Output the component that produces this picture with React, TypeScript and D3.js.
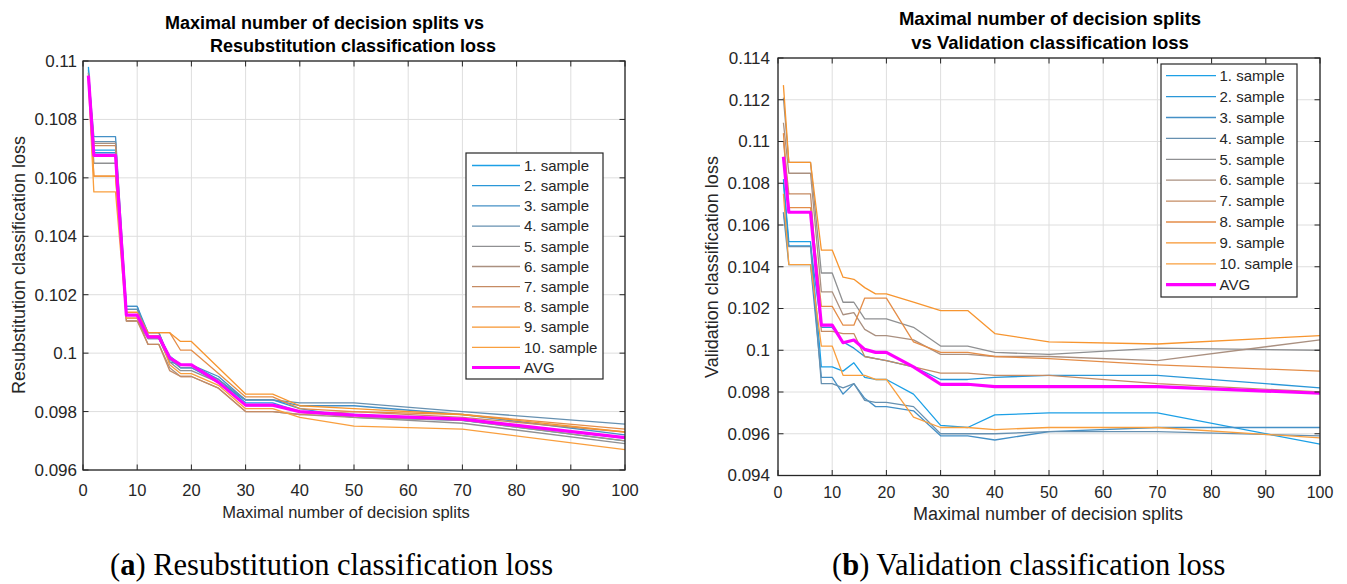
import React from 'react';
import * as d3 from 'd3';

// ---------- data ----------
const splits = [1, 2, 6, 8, 10, 12, 14, 16, 18, 20, 25, 30, 35, 40, 50, 70, 100];
const xTicks = [0, 10, 20, 30, 40, 50, 60, 70, 80, 90, 100];
const resubTicks = [0.096, 0.098, 0.1, 0.102, 0.104, 0.106, 0.108, 0.11];
const validTicks = [0.094, 0.096, 0.098, 0.1, 0.102, 0.104, 0.106, 0.108, 0.11, 0.112, 0.114];
const sampleNames = ['1. sample', '2. sample', '3. sample', '4. sample', '5. sample', '6. sample', '7. sample', '8. sample', '9. sample', '10. sample'];
const avgName = 'AVG';
const sampleColors = ['#1ca0e6', '#2a97d8', '#4490c6', '#6690b0', '#8f9092', '#aa9080', '#c58b63', '#e48d48', '#f7952f', '#f99f3e'];
const avgColor = '#ff00ff';

// Resubstitution classification loss
const resub1 = [0.1098, 0.10695, 0.10695, 0.1015, 0.1015, 0.1006, 0.1006, 0.0999, 0.0996, 0.0996, 0.0991, 0.0983, 0.0983, 0.098, 0.0979, 0.0977, 0.097];
const resub2 = [0.1097, 0.10686, 0.10686, 0.1016, 0.1016, 0.1007, 0.1007, 0.0998, 0.0995, 0.0995, 0.099, 0.0984, 0.0984, 0.0981, 0.0978, 0.0977, 0.0971];
const resub3 = [0.1096, 0.10741, 0.10741, 0.1016, 0.1016, 0.1005, 0.1005, 0.0997, 0.0996, 0.0996, 0.0992, 0.0984, 0.0984, 0.0982, 0.0982, 0.0979, 0.0972];
const resub4 = [0.1095, 0.10724, 0.10724, 0.1015, 0.1015, 0.1007, 0.1007, 0.0998, 0.0995, 0.0995, 0.0991, 0.0984, 0.0984, 0.0983, 0.0983, 0.098, 0.09757];
const resub5 = [0.1096, 0.1065, 0.1065, 0.1011, 0.1011, 0.1005, 0.1005, 0.0997, 0.0994, 0.0994, 0.099, 0.0982, 0.0982, 0.098, 0.0978, 0.0976, 0.0969];
const resub6 = [0.1095, 0.10718, 0.10718, 0.1012, 0.1012, 0.1003, 0.1003, 0.0995, 0.0992, 0.0992, 0.0988, 0.098, 0.098, 0.0979, 0.0978, 0.0977, 0.097];
const resub7 = [0.1094, 0.1071, 0.1071, 0.1011, 0.1011, 0.1003, 0.1003, 0.0994, 0.0992, 0.0992, 0.0988, 0.098, 0.098, 0.0979, 0.098, 0.0978, 0.0973];
const resub8 = [0.1094, 0.10606, 0.10606, 0.1013, 0.1013, 0.1007, 0.1007, 0.1007, 0.1001, 0.1001, 0.0993, 0.0985, 0.0985, 0.0981, 0.098, 0.0979, 0.0974];
const resub9 = [0.1095, 0.10606, 0.10606, 0.1014, 0.1014, 0.1007, 0.1007, 0.1007, 0.1004, 0.1004, 0.0995, 0.0986, 0.0986, 0.0982, 0.0981, 0.0979, 0.0973];
const resub10 = [0.1093, 0.10552, 0.10552, 0.1012, 0.1012, 0.1006, 0.1006, 0.0996, 0.0993, 0.0993, 0.0989, 0.0981, 0.0981, 0.0978, 0.0975, 0.0974, 0.0967];
const resubAvg = [0.1095, 0.10677, 0.10677, 0.1013, 0.1013, 0.10056, 0.10056, 0.09984, 0.09961, 0.0996, 0.099, 0.09822, 0.09822, 0.098, 0.09788, 0.09774, 0.09711];

// Validation classification loss
const valid1 = [0.1082, 0.1052, 0.1052, 0.0992, 0.0992, 0.099, 0.0994, 0.0987, 0.0986, 0.0986, 0.0979, 0.0964, 0.0963, 0.0969, 0.097, 0.097, 0.0955];
const valid2 = [0.108, 0.105, 0.105, 0.1011, 0.1011, 0.1004, 0.1001, 0.0997, 0.0996, 0.0995, 0.0992, 0.0986, 0.0986, 0.0987, 0.0988, 0.0988, 0.0982];
const valid3 = [0.1066, 0.1041, 0.1041, 0.0987, 0.0987, 0.0979, 0.0984, 0.0977, 0.0973, 0.0973, 0.0971, 0.0959, 0.0959, 0.0957, 0.0961, 0.0963, 0.0963];
const valid4 = [0.1066, 0.10496, 0.10496, 0.0984, 0.0984, 0.0982, 0.0984, 0.0976, 0.0975, 0.0975, 0.0973, 0.096, 0.096, 0.096, 0.0961, 0.0961, 0.0959];
const valid5 = [0.1121, 0.109, 0.109, 0.1037, 0.1037, 0.1023, 0.1023, 0.1015, 0.1015, 0.1015, 0.1011, 0.1002, 0.1002, 0.0999, 0.0998, 0.1001, 0.1];
const valid6 = [0.1109, 0.10848, 0.10848, 0.1028, 0.1028, 0.1017, 0.1018, 0.101, 0.1007, 0.1007, 0.1005, 0.0998, 0.0998, 0.0997, 0.0997, 0.0995, 0.1005];
const valid7 = [0.11, 0.10749, 0.10749, 0.1009, 0.1009, 0.1008, 0.1008, 0.0997, 0.0996, 0.0995, 0.0992, 0.0989, 0.0989, 0.0988, 0.0988, 0.0984, 0.098];
const valid8 = [0.1104, 0.10683, 0.10683, 0.1021, 0.1021, 0.1012, 0.1012, 0.1025, 0.1025, 0.1025, 0.1004, 0.0999, 0.0999, 0.0997, 0.0996, 0.0993, 0.099];
const valid9 = [0.1127, 0.109, 0.109, 0.1048, 0.1048, 0.1035, 0.1034, 0.103, 0.1027, 0.1027, 0.1023, 0.1019, 0.1019, 0.1008, 0.1004, 0.1003, 0.1007];
const valid10 = [0.1075, 0.1041, 0.1041, 0.1002, 0.1002, 0.0988, 0.0988, 0.0988, 0.0986, 0.0986, 0.0968, 0.0963, 0.0963, 0.0962, 0.0963, 0.0963, 0.0958];
const validAvg = [0.10927, 0.10661, 0.10661, 0.1012, 0.1012, 0.10036, 0.10049, 0.10004, 0.0999, 0.0999, 0.0992, 0.09837, 0.09837, 0.09826, 0.09826, 0.09826, 0.09794];

const resubSeries = [resub1, resub2, resub3, resub4, resub5, resub6, resub7, resub8, resub9, resub10];
const validSeries = [valid1, valid2, valid3, valid4, valid5, valid6, valid7, valid8, valid9, valid10];

const SANS = '"Liberation Sans", Arial, Helvetica, sans-serif';
const SERIF = '"Liberation Serif", "Times New Roman", serif';
const AXIS = '#262626';

type Cfg = {
  left: number; right: number; top: number; bottom: number;
  yDomain: [number, number]; yTicks: number[];
  tickFont: number; xTickFont: number; labelFont: number; ylabelFont: number; titleFont: number;
  titles: { text: string; x: number; y: number; anchor: string }[];
  ylabel: { text: string; x: number; y: number };
  xlabel: { text: string; x: number; y: number };
  yTickX: number; xTickY: number;
  legend: { x0: number; x1: number; y0: number; y1: number; row0: number; step: number; lx0: number; lx1: number; tx: number; font: number };
};

const fmt = (v: number) => String(+v.toFixed(3));

function Chart({ cfg, series, avg }: { cfg: Cfg; series: number[][]; avg: number[] }) {
  const x = d3.scaleLinear().domain([0, 100]).range([cfg.left, cfg.right]);
  const y = d3.scaleLinear().domain(cfg.yDomain).range([cfg.bottom, cfg.top]);
  const line = (vals: number[]) =>
    d3.line<number>().x((_, i) => x(splits[i])).y((v) => y(v))(vals) || '';
  const tl = 5.5;
  const L = cfg.legend;
  return (
    <g>
      <rect x={cfg.left} y={cfg.top} width={cfg.right - cfg.left} height={cfg.bottom - cfg.top} fill="#fff" />
      {xTicks.map((t) => (
        <line key={'gx' + t} x1={x(t)} x2={x(t)} y1={cfg.top} y2={cfg.bottom} stroke="#dedede" strokeWidth={1} />
      ))}
      {cfg.yTicks.map((t) => (
        <line key={'gy' + t} x1={cfg.left} x2={cfg.right} y1={y(t)} y2={y(t)} stroke="#dedede" strokeWidth={1} />
      ))}
      {series.map((s, i) => (
        <path key={'s' + i} d={line(s)} fill="none" stroke={sampleColors[i]} strokeWidth={1.3} strokeLinejoin="round" />
      ))}
      <path d={line(avg)} fill="none" stroke={avgColor} strokeWidth={3.2} strokeLinejoin="round" />
      <rect x={cfg.left} y={cfg.top} width={cfg.right - cfg.left} height={cfg.bottom - cfg.top} fill="none" stroke={AXIS} strokeWidth={1.3} />
      {xTicks.map((t) => (
        <g key={'tx' + t}>
          <line x1={x(t)} x2={x(t)} y1={cfg.bottom} y2={cfg.bottom - tl} stroke={AXIS} />
          <line x1={x(t)} x2={x(t)} y1={cfg.top} y2={cfg.top + tl} stroke={AXIS} />
          <text x={x(t)} y={cfg.xTickY} textAnchor="middle" fontSize={cfg.xTickFont} fill={AXIS} fontFamily={SANS}>{t}</text>
        </g>
      ))}
      {cfg.yTicks.map((t) => (
        <g key={'ty' + t}>
          <line x1={cfg.left} x2={cfg.left + tl} y1={y(t)} y2={y(t)} stroke={AXIS} />
          <line x1={cfg.right} x2={cfg.right - tl} y1={y(t)} y2={y(t)} stroke={AXIS} />
          <text x={cfg.yTickX} y={y(t)} dy="0.35em" textAnchor="end" fontSize={cfg.tickFont} fill={AXIS} fontFamily={SANS}>{fmt(t)}</text>
        </g>
      ))}
      {cfg.titles.map((t, i) => (
        <text key={'ti' + i} x={t.x} y={t.y} textAnchor={t.anchor as any} fontSize={cfg.titleFont} fontWeight="bold" fill="#000" fontFamily={SANS}>{t.text}</text>
      ))}
      <text x={cfg.xlabel.x} y={cfg.xlabel.y} textAnchor="middle" fontSize={cfg.labelFont} fill={AXIS} fontFamily={SANS}>{cfg.xlabel.text}</text>
      <text transform={`translate(${cfg.ylabel.x},${cfg.ylabel.y}) rotate(-90)`} textAnchor="middle" fontSize={cfg.ylabelFont} fill={AXIS} fontFamily={SANS}>{cfg.ylabel.text}</text>
      <rect x={L.x0} y={L.y0} width={L.x1 - L.x0} height={L.y1 - L.y0} fill="#fff" stroke={AXIS} strokeWidth={1.2} />
      {sampleNames.concat([avgName]).map((name, i) => {
        const ry = L.row0 + i * L.step;
        const isAvg = i === sampleNames.length;
        return (
          <g key={'lg' + i}>
            <line x1={L.lx0} x2={L.lx1} y1={ry} y2={ry} stroke={isAvg ? avgColor : sampleColors[i]} strokeWidth={isAvg ? 3.2 : 1.3} />
            <text x={L.tx} y={ry} dy="0.35em" fontSize={L.font} fill={AXIS} fontFamily={SANS}>{name}</text>
          </g>
        );
      })}
    </g>
  );
}

const leftCfg: Cfg = {
  left: 83, right: 625, top: 61, bottom: 470,
  yDomain: [0.096, 0.11], yTicks: resubTicks,
  tickFont: 17, xTickFont: 16.5, labelFont: 16.5, ylabelFont: 18, titleFont: 18,
  titles: [
    { text: 'Maximal number of decision splits vs', x: 165, y: 29, anchor: 'start' },
    { text: 'Resubstitution classification loss', x: 210, y: 52, anchor: 'start' },
  ],
  ylabel: { text: 'Resubstitution classification loss', x: 25, y: 265 },
  xlabel: { text: 'Maximal number of decision splits', x: 346, y: 518 },
  yTickX: 77, xTickY: 496,
  legend: { x0: 466, x1: 603, y0: 153, y1: 379, row0: 165.5, step: 20.2, lx0: 472, lx1: 520, tx: 524, font: 15 },
};

const rightCfg: Cfg = {
  left: 778, right: 1320, top: 58, bottom: 475.5,
  yDomain: [0.094, 0.114], yTicks: validTicks,
  tickFont: 17, xTickFont: 16, labelFont: 18, ylabelFont: 18, titleFont: 18.5,
  titles: [
    { text: 'Maximal number of decision splits', x: 1050, y: 25, anchor: 'middle' },
    { text: 'vs Validation classification loss', x: 1050, y: 49, anchor: 'middle' },
  ],
  ylabel: { text: 'Validation classification loss', x: 718, y: 267 },
  xlabel: { text: 'Maximal number of decision splits', x: 1048, y: 520 },
  yTickX: 770, xTickY: 498,
  legend: { x0: 1161, x1: 1297, y0: 64, y1: 297, row0: 75.7, step: 20.9, lx0: 1166, lx1: 1216, tx: 1219.5, font: 15 },
};

export default function App() {
  return (
    <svg width={1347} height={584} style={{ position: 'absolute', left: 0, top: 0, background: '#fff' }}>
      <rect x={0} y={0} width={1347} height={584} fill="#fff" />
      <Chart cfg={leftCfg} series={resubSeries} avg={resubAvg} />
      <Chart cfg={rightCfg} series={validSeries} avg={validAvg} />
      <text x={110} y={575} fontSize={30.5} fontFamily={SERIF} fill="#000">
        (<tspan fontWeight="bold">a</tspan>) Resubstitution classification loss
      </text>
      <text x={832} y={575} fontSize={30.5} fontFamily={SERIF} fill="#000">
        (<tspan fontWeight="bold">b</tspan>) Validation classification loss
      </text>
    </svg>
  );
}
